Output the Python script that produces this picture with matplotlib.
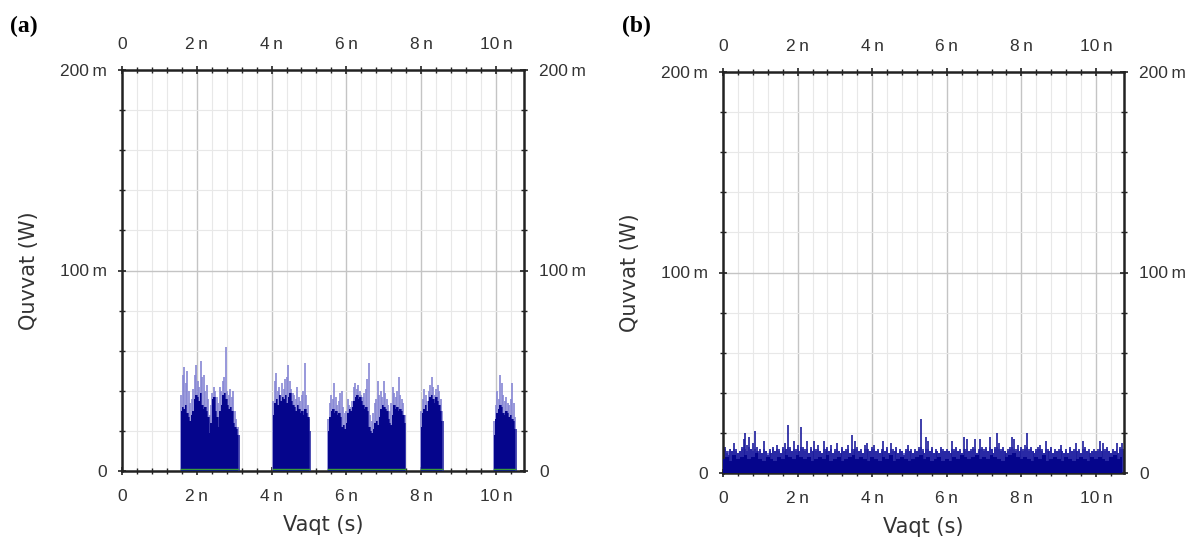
import numpy as np
import matplotlib
matplotlib.use("Agg")
import matplotlib.pyplot as plt
from matplotlib.ticker import MultipleLocator, FuncFormatter

# ---------------- data (time in ns, power in mW) ----------------
# Panel (a): five bursts, sampled every 0.04 ns
a_burst_start = [1.58, 4.05, 5.52, 8.00, 9.95]
a_step = 0.04
a_body = [
    [30, 32, 31, 33, 29, 27, 25, 28, 30, 36, 38, 37, 35, 39, 33, 31, 32, 30, 27, 19,
     24, 36, 37, 30, 27, 22, 30, 33, 38, 39, 36, 33, 31, 32, 30, 24, 22, 21, 18],
    [28, 34, 36, 33, 38, 35, 37, 36, 38, 34, 37, 39, 35, 33, 32, 30, 33, 31, 29, 30,
     28, 31, 29, 27, 20],
    [20, 27, 30, 31, 29, 30, 28, 29, 27, 22, 23, 21, 24, 29, 31, 30, 32, 35, 37, 38,
     36, 37, 35, 33, 31, 32, 30, 22, 20, 19, 21, 24, 25, 23, 27, 31, 33, 32, 31, 30,
     26, 24, 23, 28, 33, 31, 32, 30, 31, 30, 28, 24],
    [22, 29, 31, 33, 30, 35, 37, 38, 36, 34, 37, 35, 33, 30, 25],
    [18, 26, 29, 31, 33, 32, 29, 28, 30, 29, 27, 28, 26, 25, 21],
]
a_peak = [
    [38, 48, 52, 44, 50, 40, 34, 36, 41, 48, 53, 45, 42, 55, 47, 48, 40, 43, 36, 28,
     33, 39, 42, 40, 37, 34, 42, 40, 45, 47, 62, 40, 38, 41, 37, 40, 30, 26, 22],
    [35, 45, 49, 40, 42, 38, 44, 41, 46, 47, 53, 45, 41, 39, 38, 36, 42, 37, 35, 38,
     40, 54, 38, 33, 26],
    [26, 34, 38, 36, 44, 37, 33, 35, 39, 40, 32, 29, 30, 36, 33, 32, 35, 42, 44, 41,
     43, 40, 38, 37, 39, 41, 46, 54, 28, 25, 29, 34, 36, 45, 38, 40, 37, 45, 39, 36,
     33, 30, 34, 42, 39, 37, 40, 47, 38, 36, 34, 28],
    [30, 36, 41, 38, 35, 40, 43, 47, 42, 38, 41, 43, 40, 36, 30],
    [25, 33, 40, 36, 48, 44, 38, 35, 37, 34, 33, 36, 44, 34, 27],
]

# Panel (b): continuous noise; peaks every 0.05 ns, body every 0.1 ns
b_peak_step = 0.05
b_peak = [
    10, 13, 11, 9, 12, 11, 15, 12, 10, 11, 13, 17, 20, 14, 18, 12, 15, 21, 13, 11,
    12, 10, 16, 11, 9, 12, 10, 13, 11, 14, 12, 10, 13, 15, 12, 24, 13, 11, 16, 12,
    14, 11, 23, 13, 12, 16, 10, 13, 11, 16, 12, 14, 11, 10, 16, 12, 13, 11, 14, 10,
    12, 15, 11, 10, 13, 11, 12, 14, 10, 19, 12, 16, 13, 11, 12, 10, 14, 15, 12, 11,
    13, 14, 11, 12, 10, 12, 16, 11, 13, 10, 15, 12, 11, 13, 10, 12, 11, 9, 12, 14,
    11, 12, 10, 12, 11, 13, 27, 12, 10, 18, 16, 11, 13, 10, 12, 11, 10, 13, 12, 11,
    12, 11, 10, 16, 12, 13, 11, 12, 10, 18, 12, 17, 11, 12, 13, 17, 10, 12, 17, 13,
    12, 13, 11, 18, 12, 10, 13, 20, 15, 12, 13, 11, 10, 12, 13, 18, 17, 12, 14, 11,
    13, 12, 14, 20, 12, 13, 11, 10, 12, 13, 14, 12, 10, 16, 12, 11, 13, 10, 12, 11,
    12, 14, 11, 10, 12, 10, 13, 11, 12, 15, 11, 12, 10, 16, 13, 11, 12, 10, 11, 12,
    11, 12, 16, 11, 15, 12, 13, 11, 10, 12, 11, 15, 10, 13, 15, 12,
]
b_fringe = [
    11, 12, 10, 11, 12, 11, 12, 11, 10, 11, 12, 13, 12, 11, 13, 12, 11, 12, 11, 10,
    11, 10, 12, 11, 10, 11, 10, 12, 11, 12, 11, 10, 12, 11, 12, 13, 12, 11, 12, 11,
    12, 11, 13, 12, 11, 12, 10, 12, 11, 12, 11, 12, 11, 10, 12, 11, 12, 11, 12, 10,
    11, 12, 11, 10, 12, 11, 11, 12, 10, 12, 11, 12, 12, 11, 11, 10, 12, 12, 11, 11,
    12, 12, 11, 11, 10, 11, 12, 11, 12, 10, 12, 11, 11, 12, 10, 11, 11, 10, 11, 12,
    11, 11, 10, 11, 11, 12, 13, 11, 10, 12, 12, 11, 12, 10, 11, 11, 10, 12, 11, 11,
    11, 11, 10, 12, 11, 12, 11, 11, 10, 12, 11, 12, 11, 11, 12, 12, 10, 11, 12, 12,
    11, 12, 11, 13, 12, 10, 12, 13, 12, 11, 12, 11, 10, 11, 12, 13, 12, 11, 12, 11,
    12, 11, 12, 13, 11, 12, 11, 10, 11, 12, 12, 11, 10, 12, 11, 11, 12, 10, 11, 11,
    11, 12, 11, 10, 11, 10, 12, 11, 11, 12, 11, 11, 10, 12, 12, 11, 11, 10, 11, 11,
    11, 11, 12, 11, 12, 11, 12, 11, 10, 11, 11, 12, 10, 12, 12, 11,
]
b_body_step = 0.1
b_body = [
    7, 8, 6, 9, 7, 8, 9, 7, 8, 10,
    7, 6, 8, 7, 6, 8, 7, 9, 8, 7,
    9, 8, 7, 8, 6, 7, 8, 7, 9, 6,
    7, 8, 6, 7, 8, 9, 7, 8, 7, 6,
    8, 7, 6, 8, 7, 9, 6, 7, 8, 7,
    6, 7, 8, 9, 7, 8, 6, 7, 8, 6,
    7, 6, 8, 7, 9, 8, 7, 8, 9, 7,
    8, 7, 9, 8, 7, 6, 8, 9, 10, 8,
    7, 8, 7, 6, 8, 7, 9, 6, 7, 8,
    7, 6, 8, 7, 6, 7, 8, 7, 6, 8,
    7, 8, 7, 6, 8, 9, 7, 8,
]

x_max = 10.75
y_max = 200
x_ticks = [0, 2, 4, 6, 8, 10]
y_ticks = [0, 100, 200]

# ---------------- styling ----------------
NAVY = "#05058c"
LIGHT = "#8686d4"
FRINGE = "#6c6cd2"
MID = "#1c1c9c"
TICK_FONT = "Liberation Sans"
LABEL_FONT = "DejaVu Sans"

fig = plt.figure(figsize=(12.03, 5.48), dpi=100)
ax_a = fig.add_axes([122 / 1203, 1 - 471 / 548, 402 / 1203, 401 / 548])
ax_b = fig.add_axes([723 / 1203, 1 - 473 / 548, 401 / 1203, 401 / 548])


def xfmt(v, pos):
    return "0" if abs(v) < 1e-9 else f"{v:g}\u2009n"


def yfmt(v, pos):
    return "0" if abs(v) < 1e-9 else f"{v:g}\u2009m"


def style(ax):
    ax.set_xlim(0, x_max)
    ax.set_ylim(0, y_max)
    ax.set_xticks(x_ticks)
    ax.set_yticks(y_ticks)
    ax.xaxis.set_minor_locator(MultipleLocator(0.4))
    ax.yaxis.set_minor_locator(MultipleLocator(20))
    ax.xaxis.set_major_formatter(FuncFormatter(xfmt))
    ax.yaxis.set_major_formatter(FuncFormatter(yfmt))
    ax.grid(which="major", color="#c4c4c4", lw=1.0, zorder=0)
    ax.grid(which="minor", color="#e8e8e8", lw=0.8, zorder=0)
    ax.set_axisbelow(True)
    for s in ax.spines.values():
        s.set_linewidth(1.8)
        s.set_color("#222222")
    ax.tick_params(which="both", direction="inout", top=True, right=True,
                   labeltop=True, labelright=True, color="#222222")
    ax.tick_params(which="major", length=6, width=1.2)
    ax.tick_params(which="minor", length=5, width=1.0)
    ax.tick_params(axis="x", which="major", pad=10, labelsize=12.5, labelcolor="#333333")
    ax.tick_params(axis="y", which="major", pad=8, labelsize=12.5, labelcolor="#333333")
    for lab in ax.get_xticklabels() + ax.get_yticklabels():
        lab.set_fontfamily(TICK_FONT)
    ax.set_xlabel("Vaqt (s)", fontsize=15, family=LABEL_FONT, color="#333333", labelpad=8)
    ax.set_ylabel("Quvvat (W)", fontsize=15, family=LABEL_FONT, color="#333333", labelpad=15)


# panel (a)
for start, body, peak in zip(a_burst_start, a_body, a_peak):
    t = start + a_step * np.arange(len(body))
    ax_a.vlines(t, 0, peak, color=LIGHT, lw=1.2, zorder=2)
    ax_a.vlines(t + a_step / 2, 0, body, color=MID, lw=1.1, zorder=3)
    ax_a.fill_between(t, 0, body, step="mid", color=NAVY, lw=0, zorder=3)
    ax_a.plot([t[0], t[-1]], [1.2, 1.2], color="#3a9a3a", lw=1.0, zorder=4)

# panel (b)
tb = b_peak_step * np.arange(len(b_peak))
ax_b.fill_between(tb, 0, b_fringe, step="mid", color=FRINGE, lw=0, zorder=2)
ax_b.vlines(tb, 0, b_peak, color=MID, lw=1.2, zorder=2)
tbb = b_body_step * np.arange(len(b_body))
ax_b.fill_between(tbb, 0, b_body, step="mid", color=NAVY, lw=0, zorder=3)

for ax in (ax_a, ax_b):
    style(ax)

fig.text(10 / 1203, 1 - 26 / 548, "(a)", fontsize=17, fontweight="bold",
         family="Liberation Serif", va="center", ha="left")
fig.text(622 / 1203, 1 - 26 / 548, "(b)", fontsize=17, fontweight="bold",
         family="Liberation Serif", va="center", ha="left")

fig.savefig("out.png", dpi=100)
